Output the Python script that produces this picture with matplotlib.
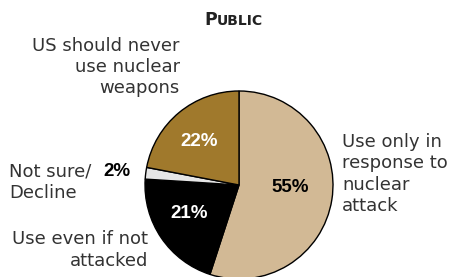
import matplotlib
matplotlib.use("Agg")
import matplotlib.pyplot as plt

# data
labels = ['Use only in\nresponse to\nnuclear\nattack', 'Use even if not\nattacked',
          'Not sure/\nDecline', 'US should never\nuse nuclear\nweapons']
values = [55, 21, 2, 22]
colors = ['#D2B995', '#000000', '#E6E6E6', '#A0792C']
pct_labels = ['55%', '21%', '2%', '22%']

W, H = 455, 277
fig = plt.figure(figsize=(W / 100, H / 100), dpi=100)
ax = fig.add_axes([0, 0, 1, 1])

# pie centre in pixel coords (y up)
cx, cy, r = 239, H - 185, 94
ax.pie(values, colors=colors, startangle=90, counterclock=False,
       center=(cx, cy), radius=r, frame=True,
       wedgeprops=dict(edgecolor='black', linewidth=1))
ax.set_xlim(0, W)
ax.set_ylim(0, H)
ax.axis('off')

# title in small caps
ax.text(217, H - 20, 'P', fontsize=12.5, fontweight='bold', ha='right', va='center', color='#222222')
ax.text(217, H - 21, 'UBLIC', fontsize=10, fontweight='bold', ha='left', va='center', color='#222222')

lab_font = dict(fontsize=13, color='#333333', linespacing=1.22, family='DejaVu Sans')
ax.text(180, H - 67, labels[3], ha='right', va='center', **lab_font)
ax.text(342, H - 174, labels[0], ha='left', va='center', **lab_font)
ax.text(9, H - 182, labels[2], ha='left', va='center', **lab_font)
ax.text(148, H - 250, labels[1], ha='right', va='center', **lab_font)

pct_font = dict(fontsize=13.5, fontweight='bold', family='Liberation Sans', ha='center', va='center')
ax.text(290, H - 188, pct_labels[0], color='black', **pct_font)
ax.text(189, H - 213, pct_labels[1], color='white', **pct_font)
ax.text(117, H - 171, pct_labels[2], color='black', **pct_font)
ax.text(199, H - 141, pct_labels[3], color='white', **pct_font)

fig.savefig('out.png', dpi=100)
